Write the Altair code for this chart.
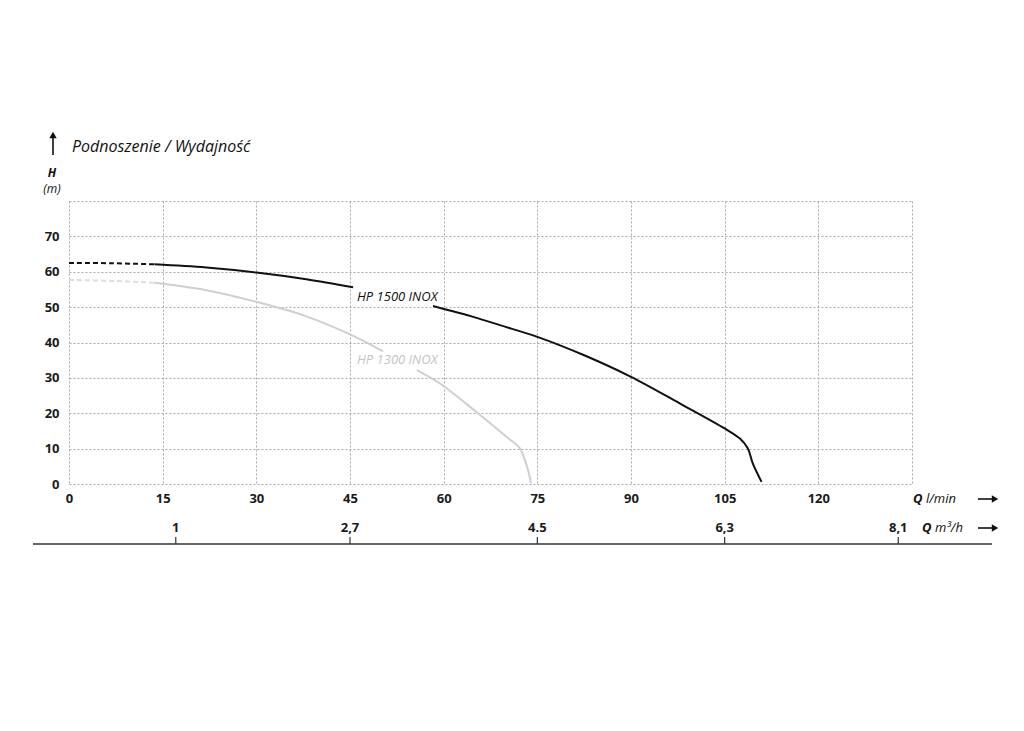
import altair as alt
import pandas as pd

# ---- data ----
x_ticks = [0, 15, 30, 45, 60, 75, 90, 105, 120, 135]
y_ticks = [0, 10, 20, 30, 40, 50, 60, 70, 80]

hp1500_dash_q = [0, 7, 13.7]
hp1500_dash_h = [62.5, 62.4, 62.1]
hp1500_a_q = [13.7, 22, 30, 38, 45.5]
hp1500_a_h = [62.1, 61.2, 59.8, 57.9, 55.6]
hp1500_b_q = [58.3, 65, 69, 75, 82.5, 90, 97.8, 105, 107.4, 108.7, 109.5, 110.9]
hp1500_b_h = [50.3, 47.1, 44.9, 41.6, 36.4, 30.3, 22.8, 15.7, 12.9, 10.1, 5.8, 0.6]

hp1300_dash_q = [0, 7, 13.7]
hp1300_dash_h = [57.7, 57.4, 56.9]
hp1300_a_q = [13.7, 22, 30, 38, 45, 50.3]
hp1300_a_h = [56.9, 54.8, 51.5, 47.4, 42.3, 37.5]
hp1300_b_q = [55.7, 59.4, 65.2, 70.0, 72.2, 73.0, 73.5, 74.0]
hp1300_b_h = [32.2, 28.4, 20.4, 13.4, 10.1, 6.8, 4.0, 0.2]

m3h_labels = ["1", "2,7", "4.5", "6,3", "8,1"]
m3h_pos_lmin = [17.1, 45, 75, 105, 132.8]

FONT = "Open Sans"
BLACK = "#111111"
GRAY = "#cfcfcf"
GRAY_DASH = "#dddddd"

xscale = alt.Scale(domain=[0, 135], nice=False, zero=False)
yscale = alt.Scale(domain=[0, 80], nice=False, zero=False)

xaxis = alt.Axis(values=x_ticks, title=None, grid=True, gridDash=[2, 2], gridColor="#a8a8a8",
                 gridWidth=1, domain=False, ticks=False, labelFont=FONT, labelFontSize=13,
                 labelFontWeight="bold", labelColor="#1a1a1a", labelPadding=8,
                 labelExpr="datum.value == 135 ? '' : datum.label", labelFlush=False)
yaxis = alt.Axis(values=y_ticks, title=None, grid=True, gridDash=[2, 2], gridColor="#a8a8a8",
                 gridWidth=1, domain=False, ticks=False, labelFont=FONT, labelFontSize=13,
                 labelFontWeight="bold", labelColor="#1a1a1a", labelPadding=10,
                 labelExpr="datum.value == 80 ? '' : datum.label", labelFlush=False)

X = alt.X("q:Q", scale=xscale, axis=xaxis)
Y = alt.Y("h:Q", scale=yscale, axis=yaxis)


def seg(qs, hs, color, dash=None):
    df = pd.DataFrame({"q": qs, "h": hs})
    kw = dict(color=color, strokeWidth=2, interpolate="catmull-rom")
    if dash:
        kw["strokeDash"] = dash
    return alt.Chart(df).mark_line(**kw).encode(x=X, y=Y)


layers = [
    seg(hp1300_dash_q, hp1300_dash_h, GRAY_DASH, [5, 3]),
    seg(hp1300_a_q, hp1300_a_h, GRAY),
    seg(hp1300_b_q, hp1300_b_h, GRAY),
    seg(hp1500_dash_q, hp1500_dash_h, BLACK, [5, 3]),
    seg(hp1500_a_q, hp1500_a_h, BLACK),
    seg(hp1500_b_q, hp1500_b_h, BLACK),
]

# second (m3/h) axis
m3 = pd.DataFrame({"q": m3h_pos_lmin, "lab": m3h_labels})
layers.append(alt.Chart(m3).mark_text(font=FONT, fontSize=13, fontWeight="bold", color="#1a1a1a",
                                      baseline="middle", align="center")
              .encode(x=X, y=alt.value(327), text="lab:N"))
layers.append(alt.Chart(m3).mark_rule(color="#333333", strokeWidth=1.2)
              .encode(x=X, y=alt.value(336), y2=alt.value(343)))

anno = pd.DataFrame({"a": [0]})


def txt(text, x, y, size=13, color=BLACK, style="italic", weight="normal", align="left"):
    return alt.Chart(anno).mark_text(text=text, font=FONT, fontSize=size, fontStyle=style,
                                     fontWeight=weight, color=color, align=align,
                                     baseline="middle").encode(x=alt.value(x), y=alt.value(y))


layers += [
    txt("HP 1500 INOX", 288, 96, 13, BLACK),
    txt("HP 1300 INOX", 288, 159, 13, "#c4c4c4"),
    txt("Podnoszenie / Wydajność", 3, -54, 16, BLACK),
    txt("H", -17, -28, 12, BLACK, weight="bold", align="center"),
    txt("(m)", -17, -12, 12, BLACK, align="center"),
    txt("Q", 844, 298, 13, BLACK, weight="bold"),
    txt("l/min", 857, 298, 13, BLACK),
    txt("Q", 853, 327, 13, BLACK, weight="bold"),
    txt("m³/h", 866, 327, 13, BLACK),
]

# arrows and baseline
def rule(x, x2, y, y2, w=1.6, color=BLACK):
    return alt.Chart(anno).mark_rule(color=color, strokeWidth=w).encode(
        x=alt.value(x), x2=alt.value(x2), y=alt.value(y), y2=alt.value(y2))


def head(x, y, shape):
    return alt.Chart(anno).mark_point(shape=shape, filled=True, color=BLACK, size=55, opacity=1).encode(
        x=alt.value(x), y=alt.value(y))


layers += [
    rule(-16, -16, -63, -46),
    head(-16, -66, "triangle-up"),
    rule(909, 924, 298, 298),
    head(926, 298, "triangle-right"),
    rule(909, 924, 327, 327),
    head(926, 327, "triangle-right"),
    rule(-36, 923, 343, 343, 1.6, "#333333"),
]

chart = alt.layer(*layers).properties(
    width=843, height=283,
    padding={"left": 61, "top": 193, "right": 100, "bottom": 70},
    autosize=alt.AutoSizeParams(type="none"),
    background="white",
).configure_view(stroke=None)

chart.save("out.html", embed_options={"renderer": "svg", "actions": False})
